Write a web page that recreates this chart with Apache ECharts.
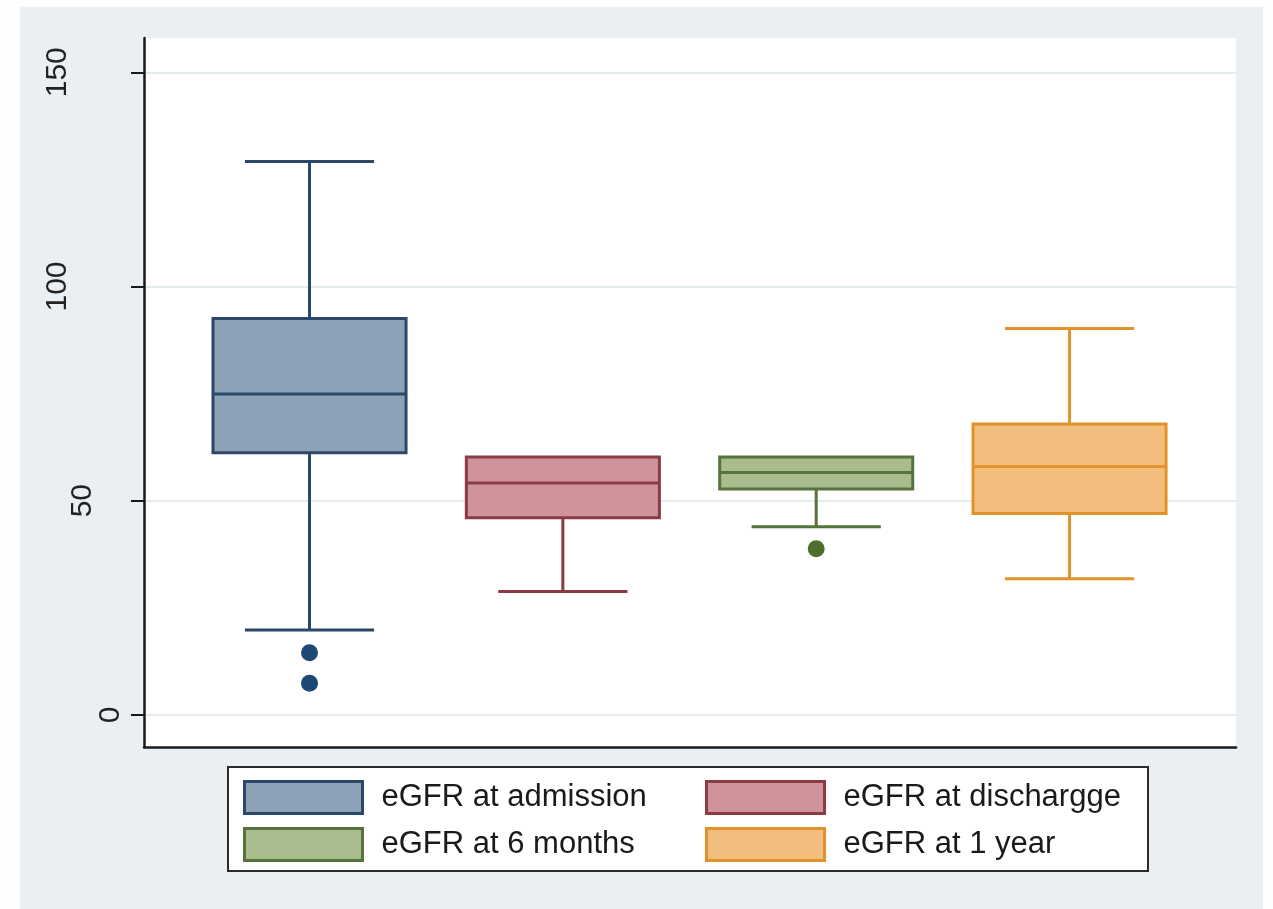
<!DOCTYPE html>
<html>
<head>
<meta charset="utf-8">
<script src="https://cdn.jsdelivr.net/npm/echarts@6/dist/echarts.min.js"></script>
<style>
html,body{margin:0;padding:0;background:#fdfdfd;}
#chart{width:1273px;height:909px;}
</style>
</head>
<body>
<div id="chart"></div>
<script>
// ---- data ----
const categories = ['eGFR at admission', 'eGFR at dischargge', 'eGFR at 6 months', 'eGFR at 1 year'];
// [lower whisker, Q1, median, Q3, upper whisker]
const admissionStats = [19.8, 61.2, 74.9, 92.5, 129.2];
const dischargeStats = [28.8, 46.0, 54.1, 60.2, 60.2];
const sixMonthStats  = [43.9, 52.7, 56.6, 60.2, 60.2];
const oneYearStats   = [31.8, 47.0, 58.0, 67.9, 90.2];
const admissionOutliers = [14.5, 7.4];
const dischargeOutliers = [];
const sixMonthOutliers  = [38.8];
const oneYearOutliers   = [];
const yTickValues = [0, 50, 100, 150];

const statsList = [admissionStats, dischargeStats, sixMonthStats, oneYearStats];
const outlierList = [admissionOutliers, dischargeOutliers, sixMonthOutliers, oneYearOutliers];
const fills   = ['#8ea2b7', '#cf949b', '#a8bc8e', '#f1be7e'];
const strokes = ['#2a4867', '#8c3a44', '#55733a', '#e2922a'];
const dots    = ['#1d4a74', '#8c3a44', '#4d6e2c', '#e2922a'];

const chart = echarts.init(document.getElementById('chart'), null, {renderer: 'canvas'});

function renderBox(color, stroke) {
  return function (params, api) {
    const x = api.value(0);
    const lo = api.value(1), q1 = api.value(2), med = api.value(3), q3 = api.value(4), hi = api.value(5);
    const band = api.size([1, 0])[0];
    const hb = band * 0.381, hc = band * 0.255;
    const pLo = api.coord([x, lo]), pQ1 = api.coord([x, q1]), pMed = api.coord([x, med]),
          pQ3 = api.coord([x, q3]), pHi = api.coord([x, hi]);
    const cx = pMed[0];
    const ls = {stroke: stroke, lineWidth: 3, fill: null};
    const children = [];
    if (hi > q3) {
      children.push({type: 'line', shape: {x1: cx, y1: pQ3[1], x2: cx, y2: pHi[1]}, style: ls});
      children.push({type: 'line', shape: {x1: cx - hc, y1: pHi[1], x2: cx + hc, y2: pHi[1]}, style: ls});
    }
    if (lo < q1) {
      children.push({type: 'line', shape: {x1: cx, y1: pQ1[1], x2: cx, y2: pLo[1]}, style: ls});
      children.push({type: 'line', shape: {x1: cx - hc, y1: pLo[1], x2: cx + hc, y2: pLo[1]}, style: ls});
    }
    children.push({type: 'rect', shape: {x: cx - hb, y: pQ3[1], width: 2 * hb, height: pQ1[1] - pQ3[1]},
      style: {fill: color, stroke: stroke, lineWidth: 3}});
    children.push({type: 'line', shape: {x1: cx - hb, y1: pMed[1], x2: cx + hb, y2: pMed[1]}, style: ls});
    return {type: 'group', children: children};
  };
}

const series = [];
categories.forEach(function (name, i) {
  series.push({
    type: 'custom',
    name: name,
    renderItem: renderBox(fills[i], strokes[i]),
    encode: {x: 0, y: [1, 2, 3, 4, 5]},
    data: [[i + 1].concat(statsList[i])],
    z: 3
  });
  if (outlierList[i].length) {
    series.push({
      type: 'scatter',
      name: name,
      symbol: 'circle',
      symbolSize: 17,
      itemStyle: {color: dots[i], opacity: 1},
      data: outlierList[i].map(function (v) { return [i + 1, v]; }),
      z: 4
    });
  }
});

function legendItem(i) {
  return {name: categories[i], icon: 'rect',
    itemStyle: {color: fills[i], borderColor: strokes[i], borderWidth: 3}};
}
const legendCommon = {
  orient: 'vertical',
  itemWidth: 118,
  itemHeight: 32,
  itemGap: 12,
  selectedMode: false,
  textStyle: {fontSize: 31, color: '#1a1a1a', fontFamily: 'Liberation Sans, Arial, sans-serif', padding: [0, 0, 0, 14]}
};

const option = {
  backgroundColor: '#fdfdfd',
  animation: false,
  graphic: [
    {type: 'rect', z: -10, shape: {x: 20, y: 7, width: 1243, height: 902}, style: {fill: '#e9eff2'}},
    {type: 'rect', z: -5, shape: {x: 228, y: 767, width: 920, height: 104}, style: {fill: '#ffffff', stroke: '#2b2b2b', lineWidth: 2}}
  ],
  grid: {
    left: 144, right: 37, top: 38, bottom: 162,
    show: true, backgroundColor: '#ffffff', borderWidth: 0
  },
  legend: [
    Object.assign({left: 238, top: 775, data: [legendItem(0), legendItem(2)]}, legendCommon),
    Object.assign({left: 700, top: 775, data: [legendItem(1), legendItem(3)]}, legendCommon)
  ],
  xAxis: {
    type: 'value',
    min: 0.3467, max: 4.657,
    axisLine: {show: true, onZero: false, lineStyle: {color: '#1a1a1a', width: 2.5}},
    axisTick: {show: false},
    axisLabel: {show: false},
    splitLine: {show: false}
  },
  yAxis: {
    type: 'value',
    min: -7.5, max: 158,
    axisLine: {show: true, lineStyle: {color: '#1a1a1a', width: 2.5}},
    axisTick: {show: true, length: 13, lineStyle: {color: '#1a1a1a', width: 2}, customValues: yTickValues},
    axisLabel: {
      customValues: yTickValues,
      rotate: 90,
      margin: 18,
      fontSize: 30,
      color: '#222222',
      fontFamily: 'Liberation Sans, Arial, sans-serif',
      formatter: function (v) {
        const s = String(v);
        return '{p' + s.length + '|' + s + '}';
      },
      rich: {
        p1: {fontSize: 30, padding: [0, 0, 0, 0]},
        p2: {fontSize: 30, padding: [0, 0, 28, 0]},
        p3: {fontSize: 30, padding: [0, 0, 53, 0]}
      }
    },
    splitLine: {show: true, lineStyle: {color: '#e4ebee', width: 2}}
  },
  series: series
};
chart.setOption(option);
</script>
</body>
</html>
